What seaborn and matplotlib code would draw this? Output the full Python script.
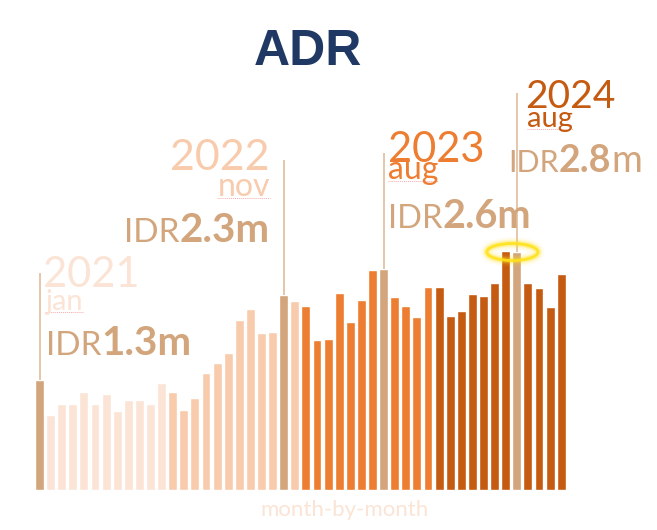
import matplotlib
matplotlib.use("Agg")
import matplotlib.pyplot as plt
from matplotlib.patches import Ellipse
import pandas as pd
import seaborn as sns

# monthly ADR, million IDR, jan 2021 .. dec 2024
years = ["2021", "2022", "2023", "2024"]
months = ["jan", "feb", "mar", "apr", "may", "jun",
          "jul", "aug", "sep", "oct", "nov", "dec"]
adr_2021 = [1.30, 0.88, 1.01, 1.01, 1.15, 1.01, 1.13, 0.93, 1.06, 1.06, 1.01, 1.26]
adr_2022 = [1.15, 0.94, 1.08, 1.38, 1.49, 1.61, 2.00, 2.13, 1.85, 1.86, 2.30, 2.22]
adr_2023 = [2.17, 1.76, 1.78, 2.32, 1.98, 2.24, 2.59, 2.60, 2.27, 2.16, 2.04, 2.39]
adr_2024 = [2.39, 2.05, 2.11, 2.31, 2.28, 2.44, 2.81, 2.80, 2.44, 2.38, 2.15, 2.54]

highlights = [("2021", "jan", "1.3m"), ("2022", "nov", "2.3m"),
              ("2023", "aug", "2.6m"), ("2024", "aug", "2.8m")]

year_colors = {"2021": "#FBE4D5", "2022": "#F8CBAD",
               "2023": "#ED7D31", "2024": "#C55A11"}
tan = "#D2A57C"
line_col = "#E2C2A4"
navy = "#1F3864"

rows = []
for yr, vals in zip(years, [adr_2021, adr_2022, adr_2023, adr_2024]):
    for m, v in zip(months, vals):
        rows.append({"year": yr, "month": m, "key": f"{yr}-{m}", "adr": v})
df = pd.DataFrame(rows)
hl_keys = [f"{y}-{m}" for y, m, _ in highlights]
palette = [tan if k in hl_keys else year_colors[y] for k, y in zip(df["key"], df["year"])]

sns.set_style("white")
plt.rcParams["font.family"] = ["Lato", "DejaVu Sans"]

fig = plt.figure(figsize=(6.57, 5.30), dpi=100)
ax = fig.add_axes([33.95 / 657, 40 / 530, 532.8 / 657, 467.5 / 530])
sns.barplot(data=df, x="key", y="adr", hue="key", palette=palette,
            legend=False, width=0.8, ax=ax, saturation=1)
ax.set_xlim(-0.5, 47.5)
ax.set_ylim(0, 5.5)
ax.set_axis_off()


def px2x(px):
    return (px - 39.5) / 11.1


def px2y(py):
    return (490 - py) / 85


fig.canvas.draw()
rend = fig.canvas.get_renderer()
inv = ax.transData.inverted()


def right_of(t):
    fig.canvas.draw()
    return inv.transform((t.get_window_extent(rend).x1, 0))[0]


def left_of(t):
    fig.canvas.draw()
    return inv.transform((t.get_window_extent(rend).x0, 0))[0]


# layout of each label block: text x (px), alignment, baselines (px), line top (px)
layout = {
    "2021": dict(x=43, mx=45, vx=46, ha="left", yb=287, mb=310, vb=355, top=273,
                 ys=30, ms=21, vs=(24, 29), thin_m=False),
    "2022": dict(x=270, mx=270, vx=270, ha="right", yb=170, mb=196, vb=242, top=160,
                 ys=31, ms=23, vs=(24, 29), thin_m=False),
    "2023": dict(x=388, mx=388, vx=388, ha="left", yb=162, mb=179, vb=228, top=153,
                 ys=30, ms=23, vs=(23.5, 28.5), thin_m=False),
    "2024": dict(x=525, mx=527, vx=508, ha="left", yb=108, mb=127, vb=172, top=93,
                 ys=28, ms=21, vs=(22, 27), thin_m=True),
}

for yr, mo, val in highlights:
    idx = years.index(yr) * 12 + months.index(mo)
    v = df["adr"][idx]
    L = layout[yr]
    ccol = year_colors[yr]
    ax.plot([idx, idx], [v, px2y(L["top"])], color=line_col, lw=1.3,
            solid_capstyle="butt", zorder=1)
    ax.text(px2x(L["x"]), px2y(L["yb"]), yr, ha=L["ha"], va="baseline", color=ccol,
            fontsize=L["ys"], fontweight="normal")
    mt = ax.text(px2x(L["mx"]), px2y(L["mb"]), mo, ha=L["ha"], va="baseline",
                 color=ccol, fontsize=L["ms"], fontweight="normal")
    # value: "IDR" regular + number bold
    vy = px2y(L["vb"])
    if L["ha"] == "left":
        t1 = ax.text(px2x(L["vx"]), vy, "IDR", ha="left", va="baseline", color=tan,
                     fontsize=L["vs"][0], fontweight="normal")
        if L["thin_m"]:
            t2 = ax.text(right_of(t1), vy, val[:-1], ha="left", va="baseline",
                         color=tan, fontsize=L["vs"][1], fontweight="bold")
            ax.text(right_of(t2), vy, "m", ha="left", va="baseline", color=tan,
                    fontsize=L["vs"][1], fontweight="normal")
        else:
            ax.text(right_of(t1), vy, val, ha="left", va="baseline", color=tan,
                    fontsize=L["vs"][1], fontweight="bold")
    else:
        t2 = ax.text(px2x(L["vx"]), vy, val, ha="right", va="baseline", color=tan,
                     fontsize=L["vs"][1], fontweight="bold")
        ax.text(left_of(t2), vy, "IDR", ha="right", va="baseline", color=tan,
                fontsize=L["vs"][0], fontweight="normal")
    # spell-check squiggle under month name
    fig.canvas.draw()
    mb = mt.get_window_extent(rend)
    ux0 = inv.transform((mb.x0, 0))[0]
    ux1 = inv.transform((mb.x1, 0))[0]
    uy = px2y(L["mb"] + 2)
    ax.plot([ux0, ux1], [uy, uy], color="#F08A8A", lw=0.7, ls=(0, (1, 1)),
            clip_on=False, alpha=0.7)

# glowing halo around the peak
peak = df["adr"].idxmax()
cx = peak + 0.6
cy = df["adr"][peak] - 0.01
for lw, a in [(9, 0.08), (6, 0.15), (4, 0.3), (2, 0.9)]:
    ax.add_patch(Ellipse((cx, cy), 4.6, 0.2, fill=False, edgecolor="#FFE21A",
                         lw=lw, alpha=a, zorder=5, clip_on=False))

fig.text(308 / 657, 1 - 65 / 530, "ADR", ha="center", va="baseline",
         fontsize=36, fontweight="bold", color=navy, family="Liberation Sans")
fig.text(344 / 657, 1 - 516 / 530, "month-by-month", ha="center", va="baseline",
         fontsize=16, fontweight="normal", color="#FBE4D5")

fig.savefig("out.png", dpi=100)
